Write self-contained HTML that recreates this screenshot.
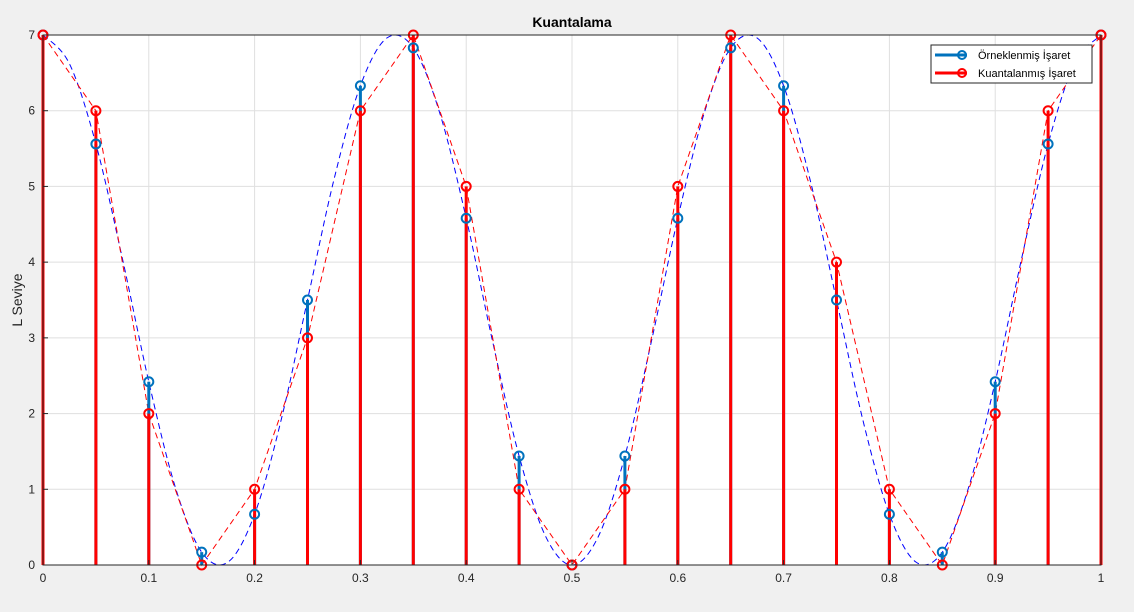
<!DOCTYPE html>
<html><head><meta charset="utf-8"><style>
html,body{margin:0;padding:0;background:#f0f0f0;}
svg{display:block;font-family:"Liberation Sans",sans-serif;}
</style></head><body>
<svg id="chart" width="1134" height="612">
<rect x="0" y="0" width="1134" height="612" fill="#f0f0f0"/>
<rect x="43" y="35" width="1058" height="530" fill="#fff"/>
<g id="grid"></g>
<g id="series"></g>
<rect x="43" y="35" width="1058" height="530" fill="none" stroke="#262626" stroke-width="1"/>
<g id="ticks"></g>
<text x="572" y="27" text-anchor="middle" font-size="14" font-weight="bold" fill="#000">Kuantalama</text>
<text transform="translate(22,300) rotate(-90)" text-anchor="middle" font-size="14" fill="#262626">L Seviye</text>
<g>
<rect x="931" y="45" width="161" height="38" fill="#fff" stroke="#262626" stroke-width="1"/>
<g>
<line x1="935" y1="55" x2="967" y2="55" stroke="#0072BD" stroke-width="3"/>
<circle cx="962" cy="55" r="4" fill="none" stroke="#0072BD" stroke-width="2"/>
<text x="978" y="59" font-size="11" fill="#000">Örneklenmiş İşaret</text>
</g>
<g>
<line x1="935" y1="73" x2="967" y2="73" stroke="#ff0000" stroke-width="3"/>
<circle cx="962" cy="73" r="4" fill="none" stroke="#ff0000" stroke-width="2"/>
<text x="978" y="77" font-size="11" fill="#000">Kuantalanmış İşaret</text>
</g>
</g>
</svg>
<script>
const sampleTimes=[0,0.05,0.1,0.15,0.2,0.25,0.3,0.35,0.4,0.45,0.5,0.55,0.6,0.65,0.7,0.75,0.8,0.85,0.9,0.95,1];
const sampledValues=[7,5.56,2.42,0.17,0.67,3.5,6.33,6.83,4.58,1.44,0,1.44,4.58,6.83,6.33,3.5,0.67,0.17,2.42,5.56,7];
const quantizedValues=[7,6,2,0,1,3,6,7,5,1,0,1,5,7,6,4,1,0,2,6,7];
const curveTimes=[0,0.025,0.05,0.075,0.1,0.125,0.15,0.175,0.2,0.225,0.25,0.275,0.3,0.325,0.35,0.375,0.4,0.425,0.45,0.475,0.5,0.525,0.55,0.575,0.6,0.625,0.65,0.675,0.7,0.725,0.75,0.775,0.8,0.825,0.85,0.875,0.9,0.925,0.95,0.975,1];
const curveValues=[7,6.62,5.56,4.05,2.42,1.03,0.17,0.04,0.67,1.91,3.5,5.09,6.33,6.96,6.83,5.97,4.58,2.95,1.44,0.38,0,0.38,1.44,2.95,4.58,5.97,6.83,6.96,6.33,5.09,3.5,1.91,0.67,0.04,0.17,1.03,2.42,4.05,5.56,6.62,7];
const xTicks=[0,0.1,0.2,0.3,0.4,0.5,0.6,0.7,0.8,0.9,1];
const xTickLabels=["0","0.1","0.2","0.3","0.4","0.5","0.6","0.7","0.8","0.9","1"];
const yTicks=[0,1,2,3,4,5,6,7];

const NS="http://www.w3.org/2000/svg";
const X=t=>43+t*1058;
const Y=v=>565-v*530/7;
function mk(tag,attrs,parent){const e=document.createElementNS(NS,tag);for(const k in attrs)e.setAttribute(k,attrs[k]);parent.appendChild(e);return e;}
const grid=document.getElementById('grid'),ticks=document.getElementById('ticks'),series=document.getElementById('series');
xTicks.forEach((t,i)=>{
  const g=mk('line',{x1:X(t),x2:X(t),y1:35,y2:565,stroke:'#dfdfdf','stroke-width':1},grid);
  
  
  const tk=mk('line',{x1:X(t),x2:X(t),y1:565,y2:560,stroke:'#262626'},ticks);
  
  
  const tx=mk('text',{x:X(t),y:582,'text-anchor':'middle','font-size':12,fill:'#262626'},ticks);
  tx.textContent=xTickLabels[i];
  
  
});
yTicks.forEach(v=>{
  const g=mk('line',{x1:43,x2:1101,y1:Y(v),y2:Y(v),stroke:'#dfdfdf','stroke-width':1},grid);
  
  
  const tk=mk('line',{x1:43,x2:48,y1:Y(v),y2:Y(v),stroke:'#262626'},ticks);
  
  
  const tx=mk('text',{x:35,y:Y(v)+4,'text-anchor':'end','font-size':12,fill:'#262626'},ticks);
  tx.textContent=String(v);
  
  
});
// smooth blue dashed curve (Catmull-Rom)
const pts=curveTimes.map((t,i)=>[X(t),Y(curveValues[i])]);
let d='M'+pts[0][0]+','+pts[0][1];
for(let i=0;i<pts.length-1;i++){
  const p0=pts[Math.max(0,i-1)],p1=pts[i],p2=pts[i+1],p3=pts[Math.min(pts.length-1,i+2)];
  d+=' C'+(p1[0]+(p2[0]-p0[0])/6)+','+(p1[1]+(p2[1]-p0[1])/6)+' '+(p2[0]-(p3[0]-p1[0])/6)+','+(p2[1]-(p3[1]-p1[1])/6)+' '+p2[0]+','+p2[1];
}
const curve=mk('path',{d:d,fill:'none',stroke:'#0000ff','stroke-width':1,'stroke-dasharray':'6,4'},series);


const qline=mk('polyline',{points:sampleTimes.map((t,i)=>X(t)+','+Y(quantizedValues[i])).join(' '),fill:'none',stroke:'#ff0000','stroke-width':1,'stroke-dasharray':'6,4'},series);


sampleTimes.forEach((t,i)=>{
  const s=mk('line',{x1:X(t),x2:X(t),y1:Y(0),y2:Y(sampledValues[i]),stroke:'#0072BD','stroke-width':3},series);
  
  
});
sampleTimes.forEach((t,i)=>{
  const s=mk('line',{x1:X(t),x2:X(t),y1:Y(0),y2:Y(quantizedValues[i]),stroke:'#ff0000','stroke-width':3},series);
  
  
});
sampleTimes.forEach((t,i)=>{
  const c=mk('circle',{cx:X(t),cy:Y(sampledValues[i]),r:4.5,fill:'none',stroke:'#0072BD','stroke-width':2},series);
  
  
});
sampleTimes.forEach((t,i)=>{
  const c=mk('circle',{cx:X(t),cy:Y(quantizedValues[i]),r:4.5,fill:'none',stroke:'#ff0000','stroke-width':2},series);
  
  
});
</script>
</body></html>
